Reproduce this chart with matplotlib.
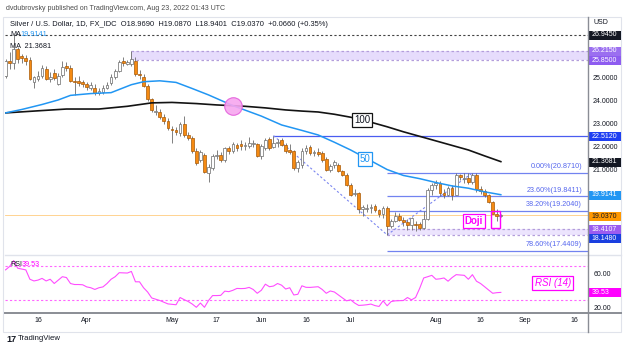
import matplotlib
matplotlib.use('Agg')
import matplotlib.pyplot as plt
from matplotlib.patches import Rectangle
from matplotlib.lines import Line2D

plt.rcParams['font.family'] = ['Liberation Sans', 'DejaVu Sans']

# ---------------- data (daily bars, Mar 3 2022 .. Aug 23 2022) ----------------
opens = [25.25, 25.12, 25.77, 25.70, 26.30, 26.00, 25.93, 25.85, 24.87, 25.00, 25.13, 25.45, 25.02, 25.28, 24.80, 25.18, 25.58, 25.50, 24.92, 24.92, 24.85,
         24.76, 24.60, 24.62, 24.40, 24.45, 24.62, 24.82, 25.10, 25.35, 25.78, 25.68, 25.66, 25.80, 25.22, 25.10, 24.70, 24.10, 23.55, 23.55, 23.35, 23.15,
         22.82, 22.76, 22.62, 23.04, 22.52, 22.40, 21.85, 21.45, 21.65, 20.85, 21.10, 21.62, 21.68, 21.44, 21.95, 21.82, 22.12, 22.13, 22.05, 22.05, 22.15, 22.15,
         21.62, 21.96, 22.35, 22.00, 22.20, 22.30, 22.10, 21.90, 21.85, 21.10, 21.20, 21.85, 22.00, 21.75, 21.78, 21.74, 21.48, 21.00, 21.20, 21.22, 20.96, 20.79,
         20.36, 19.95, 20.00, 19.30, 19.30, 19.33, 19.40, 19.22, 19.06, 19.31, 18.54, 18.75, 19.00, 18.82, 18.70, 18.60, 18.62, 18.62, 18.47, 18.85, 20.12,
         20.33, 20.45, 20.00, 19.90, 20.22, 19.92, 20.78, 20.62, 20.66, 20.47, 20.80, 20.18, 20.08, 19.88, 19.60, 19.08, 18.969]
highs = [25.45, 25.90, 26.20, 26.945, 26.40, 26.10, 26.05, 25.95, 25.12, 25.35, 25.60, 25.55, 25.30, 25.45, 25.25, 25.77, 25.75, 25.60, 25.10, 25.15, 24.95,
         24.85, 24.85, 24.80, 24.60, 24.75, 24.85, 25.20, 25.45, 25.85, 25.95, 25.82, 26.215, 25.95, 25.40, 25.20, 24.80, 24.15, 23.85, 23.70, 23.45, 23.30,
         22.95, 22.90, 23.13, 23.39, 22.65, 22.50, 21.95, 21.90, 21.75, 21.25, 21.70, 21.90, 21.80, 22.00, 22.05, 22.25, 22.20, 22.30, 22.25, 22.45, 22.30, 22.20,
         22.15, 22.40, 22.45, 22.512, 22.35, 22.40, 22.20, 22.15, 21.90, 21.45, 21.95, 22.10, 22.10, 21.90, 21.95, 21.85, 21.55, 21.25, 21.45, 21.30, 21.00, 20.85,
         20.45, 20.15, 20.05, 19.45, 19.50, 19.50, 19.50, 19.30, 19.40, 19.40, 18.85, 19.15, 19.10, 18.95, 18.85, 18.95, 18.75, 18.70, 19.20, 20.20, 20.45,
         20.55, 20.50, 20.15, 20.30, 20.35, 20.85, 20.84, 20.87, 20.86, 20.871, 20.85, 20.30, 20.15, 19.95, 19.65, 19.27, 19.087]
lows = [24.95, 25.05, 25.45, 25.43, 25.70, 25.70, 25.60, 24.95, 24.60, 24.90, 25.05, 24.95, 24.85, 24.95, 24.72, 25.10, 25.35, 24.85, 24.30, 24.70, 24.65,
        24.50, 24.50, 24.30, 24.30, 24.35, 24.55, 24.75, 25.00, 25.30, 25.55, 25.60, 25.55, 25.15, 25.00, 24.65, 24.05, 23.55, 23.40, 23.25, 23.00, 22.75,
        22.20, 22.55, 22.50, 22.45, 22.30, 21.75, 21.20, 21.35, 20.85, 20.46, 21.00, 21.50, 21.35, 21.35, 21.70, 21.75, 21.85, 21.90, 21.90, 21.95, 22.00, 21.55,
        21.50, 21.90, 21.90, 21.95, 22.00, 22.05, 21.75, 21.70, 21.00, 20.90, 21.10, 21.70, 21.65, 21.60, 21.60, 21.35, 20.95, 20.90, 21.10, 20.90, 20.75, 20.30,
        19.85, 19.85, 19.10, 19.00, 19.15, 19.10, 19.15, 18.95, 18.90, 18.148, 18.45, 18.70, 18.75, 18.55, 18.35, 18.35, 18.30, 18.38, 18.40, 18.80, 19.90,
        20.15, 19.85, 19.75, 19.85, 19.66, 19.88, 20.55, 20.45, 20.40, 20.40, 20.05, 19.95, 19.80, 19.55, 19.05, 18.78, 18.9401]
closes = [25.20, 25.77, 25.70, 26.30, 25.86, 25.93, 25.80, 25.02, 25.08, 25.13, 25.50, 25.02, 25.10, 25.05, 25.15, 25.52, 25.50, 24.90, 24.85, 24.82, 24.76,
          24.66, 24.72, 24.40, 24.48, 24.62, 24.72, 25.10, 25.35, 25.75, 25.70, 25.74, 25.86, 25.22, 25.16, 24.70, 24.13, 23.62, 23.60, 23.35, 23.15, 22.83,
          22.76, 22.68, 23.04, 22.52, 22.40, 21.83, 21.30, 21.80, 20.90, 21.15, 21.62, 21.68, 21.45, 21.95, 21.82, 22.15, 21.98, 22.05, 22.10, 22.18, 22.18, 21.62,
          22.05, 22.31, 21.96, 22.20, 22.25, 22.12, 21.83, 21.80, 21.10, 21.35, 21.85, 21.95, 21.74, 21.78, 21.70, 21.44, 21.00, 21.18, 21.35, 20.96, 20.79, 20.36,
          19.92, 20.00, 19.27, 19.36, 19.33, 19.36, 19.22, 19.05, 19.31, 18.54, 18.75, 19.00, 18.82, 18.70, 18.60, 18.90, 18.58, 18.47, 18.85, 20.12, 20.33,
          20.45, 20.00, 19.90, 20.22, 19.92, 20.78, 20.68, 20.66, 20.47, 20.80, 20.18, 20.08, 19.88, 19.60, 19.08, 18.97, 19.037]

rsi = [66, 66, 70, 77, 68, 67, 66, 55, 53, 54, 56, 53, 55, 50, 54, 58, 57, 50, 48.8, 48.8, 48.5,
       46, 45, 43, 45, 46, 50, 55, 58, 62.7, 62.5, 62.3, 64.2, 52, 52, 45, 40, 33, 31.5, 30, 28, 26,
       25.5, 25, 33.5, 31, 28.8, 25.8, 22, 27, 22, 30, 35.8, 35.8, 36, 41, 40.4, 42, 44.2, 44, 44.2, 45.4, 43, 38.5,
       42, 49.2, 46.2, 47, 50, 48, 43.5, 45, 36.5, 37.3, 47.3, 45.5, 45.4, 45.8, 46.2, 43, 38.5, 41.2, 40, 36.5, 33, 29.6,
       30.8, 27, 24.2, 24.5, 25, 25.8, 24, 23, 29.6, 23.8, 28.8, 29.6, 29.8, 30, 33.5, 30.8, 33.5, 44.2, 56.5, 58, 59.6,
       55, 55.5, 56.5, 52.7, 57, 60.4, 60, 59.6, 55, 60.4, 52.7, 50, 46.2, 42.3, 38.5, 39.2, 39.53]

ma50_idx = [1, 5, 10, 14, 17, 22, 27, 32, 35, 39, 43, 47, 51, 57, 64, 69, 74, 78, 82, 86, 90, 95, 99, 103, 107, 111, 115, 119, 123]
ma50_val = [23.51, 23.66, 23.88, 24.08, 24.28, 24.36, 24.40, 24.75, 24.88, 24.92, 24.85, 24.58, 24.30, 23.83, 23.37, 22.98, 22.74, 22.54, 22.22,
            21.88, 21.50, 21.02, 20.76, 20.62, 20.45, 20.30, 20.20, 20.04, 19.9141]
ma100_idx = [1, 8, 16, 24, 31, 37, 42, 48, 53, 60, 65, 70, 74, 78, 82, 86, 91, 95, 99, 103, 107, 111, 115, 119, 123]
ma100_val = [23.51, 23.59, 23.68, 23.68, 23.80, 23.95, 23.97, 23.92, 23.86, 23.80, 23.73, 23.64, 23.59, 23.55, 23.45, 23.32, 23.10, 22.90,
             22.68, 22.48, 22.28, 22.08, 21.88, 21.62, 21.3681]

tick_pos = [9, 21, 42, 53, 64, 75, 86, 107, 118, 129, 141]
tick_lbl = ['16', 'Apr', 'May', '17', 'Jun', '16', 'Jul', 'Aug', '16', 'Sep', '16']

fib_lvls = [20.871, 19.8411, 19.204, 17.4409]
fib_txt = ['0.00%(20.8710)', '23.60%(19.8411)', '38.20%(19.2040)', '78.60%(17.4409)']

# ---------------- layout ----------------
W, H = 625, 348
fig = plt.figure(figsize=(6.25, 3.48), dpi=100)
def fx(px): return px / W
def fy(py): return 1 - py / H

X0, X1 = 5, 588
ax = fig.add_axes([fx(X0), fy(254), fx(X1) - fx(X0), fy(20) - fy(254)])
rax = fig.add_axes([fx(X0), fy(312), fx(X1) - fx(X0), fy(256) - fy(312)])
XL = (0.87, 144.47)
for a in (ax, rax):
    a.set_xlim(*XL)
    a.set_xticks([]); a.set_yticks([])
    for s in a.spines.values():
        s.set_visible(False)
ax.set_ylim(17.308, 27.593)
rax.set_ylim(16.47, 82.35)

# frame and separators
fig.add_artist(Rectangle((fx(3), fy(332)), fx(621) - fx(3), fy(17) - fy(332), transform=fig.transFigure,
                         fill=False, ec='#e0e3eb', lw=0.8))
fig.add_artist(Line2D([fx(X0), fx(621)], [fy(255), fy(255)], color='#e0e3eb', lw=1.0))
fig.add_artist(Line2D([fx(X0), fx(621)], [fy(313), fy(313)], color='#8a8d95', lw=1.4))
fig.add_artist(Line2D([fx(X1), fx(X1)], [fy(17), fy(332)], color='#8a8d95', lw=1.0))

# ---------------- main pane ----------------
xr = XL[1]
ax.add_patch(Rectangle((32, 25.85), xr - 32, 26.215 - 25.85, fc='#e6dcfc', ec='none', zorder=1))
ax.hlines([25.85, 26.215], 32, xr, colors='#b39ddb', linestyles=(0, (2, 2)), lw=0.9, zorder=2)
ax.add_patch(Rectangle((95, 18.148), xr - 95, 18.4107 - 18.148, fc='#ece4fd', ec='none', zorder=1))
ax.hlines([18.148, 18.4107], 95, xr, colors='#b39ddb', linestyles=(0, (2, 2)), lw=0.9, zorder=2)

ax.axhline(26.945, color='#444444', ls=(0, (2, 2)), lw=0.8, zorder=2)
ax.axhline(19.037, color='#ffcc80', lw=0.6, zorder=1)
ax.hlines(22.512, 67, xr, colors='#4a5cf0', lw=0.9, zorder=2)

for lv, tx in zip(fib_lvls, fib_txt):
    ax.hlines(lv, 95, xr, colors='#7283f0', lw=0.9, zorder=2)
    ax.text(143.0, lv + 0.12, tx, ha='right', va='bottom', fontsize=5.2, color='#5566ee', zorder=6)

ax.plot([67, 95], [22.512, 18.148], ls=(0, (2, 2)), color='#7b86f0', lw=0.8, zorder=2)
ax.plot([95, 116], [18.148, 20.871], ls=(0, (2, 2)), color='#7b86f0', lw=0.8, zorder=2)

for i, (o, h, l, c) in enumerate(zip(opens, highs, lows, closes)):
    up = c >= o
    col = '#6b6b6b' if up else '#a85a08'
    ax.vlines(i, l, h, color='#6b6b6b', lw=0.6, zorder=3)
    ax.add_patch(Rectangle((i - 0.34, min(o, c)), 0.68, max(abs(c - o), 0.015),
                           fc='white' if up else '#f58a12', ec=col, lw=0.5, zorder=4))

ax.plot(ma100_idx, ma100_val, color='#131313', lw=1.2, zorder=5)
ax.plot(ma50_idx, ma50_val, color='#2196f3', lw=1.1, zorder=5)

ax.scatter([57], [23.83], s=160, fc='#f7a6ef', ec='#e35ddb', lw=0.8, zorder=6, alpha=0.9)

ax.text(88.8, 23.2, '100', ha='center', va='center', fontsize=7, color='#131722', zorder=7,
        bbox=dict(boxstyle='square,pad=0.2', fc='white', ec='#131313', lw=0.9))
ax.text(89.5, 21.48, '50', ha='center', va='center', fontsize=7, color='#2196f3', zorder=7,
        bbox=dict(boxstyle='square,pad=0.2', fc='white', ec='#2196f3', lw=0.9))
ax.text(116.4, 18.74, 'Doji', ha='center', va='center', fontsize=7, color='#ff00ff', fontweight='bold', zorder=7,
        bbox=dict(boxstyle='square,pad=0.2', fc='white', ec='#ff00ff', lw=0.9))
ax.add_patch(Rectangle((120.6, 18.45), 2.2, 0.75, fill=False, ec='#ff00ff', lw=1.0, zorder=7))

# ---------------- RSI pane ----------------
rax.axhline(70, color='#ff66ff', ls=(0, (2, 2)), lw=0.8)
rax.axhline(30, color='#ff66ff', ls=(0, (2, 2)), lw=0.8)
rax.plot(range(len(rsi)), rsi, color='#ff4dff', lw=0.8)
rax.text(135.8, 50.6, 'RSI (14)', ha='center', va='center', fontsize=7, color='#ff00ff', style='italic',
         bbox=dict(boxstyle='square,pad=0.25', fc='white', ec='#ff00ff', lw=0.9))

# ---------------- texts ----------------
fig.text(fx(6), fy(8), 'dvdubrovsky published on TradingView.com, Aug 23, 2022 01:43 UTC',
         fontsize=5.0, color='#4a4a4a', va='center')
fig.text(fx(10), fy(25), 'Silver / U.S. Dollar, 1D, FX_IDC  O18.9690  H19.0870  L18.9401  C19.0370  +0.0660 (+0.35%)',
         fontsize=5.4, color='#131722', va='center')
fig.text(fx(10), fy(35), 'MA', fontsize=5.2, color='#131722', va='center')
fig.text(fx(20), fy(35), '19.9141', fontsize=5.2, color='#2196f3', va='center')
fig.text(fx(10), fy(46), 'MA  21.3681', fontsize=5.2, color='#131722', va='center')
fig.text(fx(10), fy(264), 'RSI', fontsize=5.2, color='#131722', va='center')
fig.text(fx(22), fy(264), '39.53', fontsize=5.2, color='#ff00ff', va='center')

fig.text(fx(593), fy(23), 'USD', fontsize=5, color='#131722', va='center')
for p in [25, 24, 23, 22, 21]:
    py = 79 + (25 - p) * 22.75
    fig.text(fx(593), fy(py), f'{p:.4f}', fontsize=5, color='#131722', va='center')
for v, py in [(60, 275), (20, 309)]:
    fig.text(fx(594), fy(py), f'{v:.2f}', fontsize=5, color='#131722', va='center')

def plabel(py, txt, bg, fg='white'):
    fig.add_artist(Rectangle((fx(589), fy(py + 4.5)), fx(621) - fx(589), 9 / H, transform=fig.transFigure,
                             fc=bg, ec='none'))
    fig.text(fx(591.5), fy(py), txt, fontsize=5, color=fg, va='center')

plabel(35, '26.9450', '#131722')
plabel(51, '26.2150', '#9b6ff0')
plabel(60, '25.8500', '#8e5cf0')
plabel(136, '22.5120', '#1e3ff2')
plabel(162, '21.3681', '#131722')
plabel(195, '19.9141', '#2196f3')
plabel(216, '19.0370', '#ff9800', '#131722')
plabel(229.5, '18.4107', '#9b5cf0')
plabel(238.5, '18.1480', '#1a3fe0')
plabel(292, '39.53', '#ff00ff')

for tp, tl in zip(tick_pos, tick_lbl):
    px = X0 + (tp - XL[0]) / (XL[1] - XL[0]) * (X1 - X0)
    fig.text(fx(px), fy(320), tl, fontsize=5, color='#131722', ha='center', va='center')

fig.text(fx(6), fy(339), '17', fontsize=6.5, color='#131722', va='center', fontweight='bold')
fig.text(fx(18), fy(339), 'TradingView', fontsize=5.6, color='#131722', va='center')

fig.savefig('out.png', dpi=100)
